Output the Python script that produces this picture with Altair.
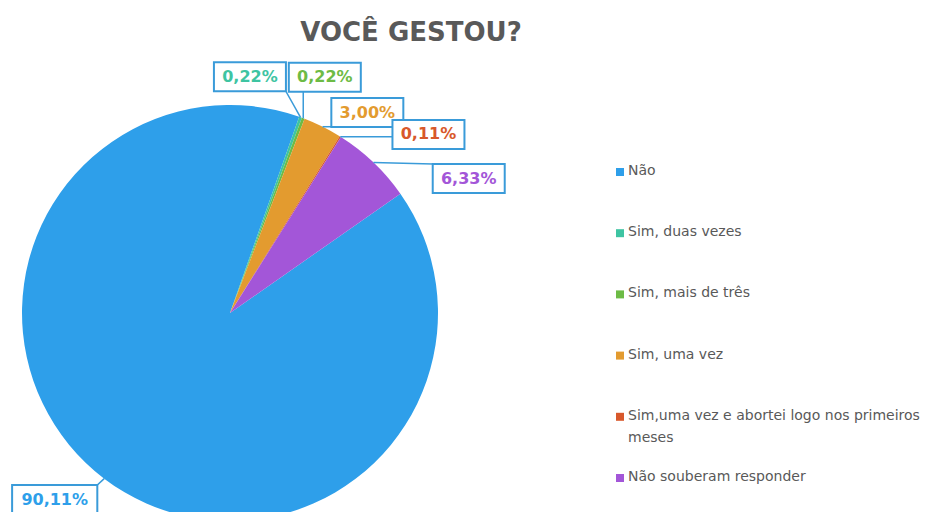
import math
import pandas as pd
import altair as alt

# ---- data ----
categories = ["Não", "Sim, duas vezes", "Sim, mais de três", "Sim, uma vez",
              "Sim,uma vez e abortei logo nos primeiros meses", "Não souberam responder"]
values = [90.11, 0.22, 0.22, 3.00, 0.11, 6.33]
pct_labels = ["90,11%", "0,22%", "0,22%", "3,00%", "0,11%", "6,33%"]
legend_text = ["Não", "Sim, duas vezes", "Sim, mais de três", "Sim, uma vez",
               "Sim,uma vez e abortei logo nos primeiros\nmeses", "Não souberam responder"]
colors = ["#2E9FEA", "#3EC4A2", "#6DBB45", "#E39B2F", "#D8582B", "#A356D8"]

# ---- layout (pixels) ----
W, H = 932, 504
CX, CY, R = 222, 305, 208
START = 55.0                      # angle of first slice (deg, clockwise from top)
label_nudge = [6, -15, 1.3, 8, 16, 17]      # label angle shift from slice middle (deg)
label_dist = [256, 237, 254, 243, 267, 274]  # label distance from centre
BOX_H = 29
LEG_X, LEG_Y0, LEG_STEP = 612, 164, 61.2
BLUE = "#3A9BD9"
GREY = "#595959"

total = sum(values)
rows = []
cum = 0.0
for i, (c, v, lab, lt) in enumerate(zip(categories, values, pct_labels, legend_text)):
    a0 = START + cum / total * 360
    cum += v
    a1 = START + cum / total * 360
    mid = math.radians((a0 + a1) / 2)
    ax = CX + R * math.sin(mid)
    ay = CY - R * math.cos(mid)
    ang = mid + math.radians(label_nudge[i])
    lx = CX + label_dist[i] * math.sin(ang)
    ly = CY - label_dist[i] * math.cos(ang)
    hw = 3 + 6.6 * len(lab)
    hh = BOX_H / 2
    px = min(max(ax, lx - hw), lx + hw)
    py = min(max(ay, ly - hh), ly + hh)
    rows.append(dict(idx=i, cat=c, value=v, label=lab, legend=lt,
                     ax=ax, ay=ay, px=px, py=py, lx=lx, ly=ly,
                     bx0=lx - hw, bx1=lx + hw, by0=ly - hh, by1=ly + hh,
                     legy=LEG_Y0 + i * LEG_STEP, legx=LEG_X, legtx=LEG_X + 8,
                     legty=LEG_Y0 + i * LEG_STEP - 8))
df = pd.DataFrame(rows)

xs = alt.Scale(domain=[0, W], nice=False, zero=False)
ys = alt.Scale(domain=[0, H], nice=False, zero=False, reverse=True)
col = alt.Color("cat:N", scale=alt.Scale(domain=categories, range=colors), legend=None)

base = alt.Chart(df)

pie = base.mark_arc(outerRadius=R).encode(
    theta=alt.Theta("value:Q", stack=True,
                    scale=alt.Scale(range=[math.radians(START), math.radians(START) + 2 * math.pi])),
    order=alt.Order("idx:Q"),
    color=col,
    x=alt.value(CX), y=alt.value(CY),
)

leaders = base.mark_rule(color=BLUE, strokeWidth=1.5).encode(
    x=alt.X("px:Q", scale=xs, axis=None), y=alt.Y("py:Q", scale=ys, axis=None),
    x2="ax:Q", y2="ay:Q",
)

boxes = base.mark_rect(fill="white", stroke=BLUE, strokeWidth=2).encode(
    x=alt.X("bx0:Q", scale=xs, axis=None), x2="bx1:Q",
    y=alt.Y("by0:Q", scale=ys, axis=None), y2="by1:Q",
)

texts = base.mark_text(font="DejaVu Sans", fontWeight="bold", fontSize=16,
                       baseline="middle", align="center").encode(
    x=alt.X("lx:Q", scale=xs, axis=None), y=alt.Y("ly:Q", scale=ys, axis=None),
    text="label:N", color=col,
)

leg_sym = base.mark_square(size=64, opacity=1).encode(
    x=alt.X("legx:Q", scale=xs, axis=None), y=alt.Y("legy:Q", scale=ys, axis=None),
    color=col,
)

leg_txt = base.mark_text(font="DejaVu Sans", fontSize=14, color=GREY, align="left",
                         baseline="top", lineBreak="\n", lineHeight=22).encode(
    x=alt.X("legtx:Q", scale=xs, axis=None), y=alt.Y("legty:Q", scale=ys, axis=None),
    text="legend:N",
)

title = alt.Chart(pd.DataFrame({"t": ["VOCÊ GESTOU?"]})).mark_text(
    font="DejaVu Sans", fontWeight="bold", fontSize=26, color=GREY, align="center",
    baseline="middle").encode(x=alt.value(403), y=alt.value(25), text="t:N")

chart = alt.layer(pie, leaders, boxes, texts, leg_sym, leg_txt, title).properties(
    width=W, height=H, autosize=alt.AutoSizeParams(type="none"), padding=0
).configure_view(stroke=None)

chart.save("out.html", embed_options={"renderer": "svg", "actions": False})
